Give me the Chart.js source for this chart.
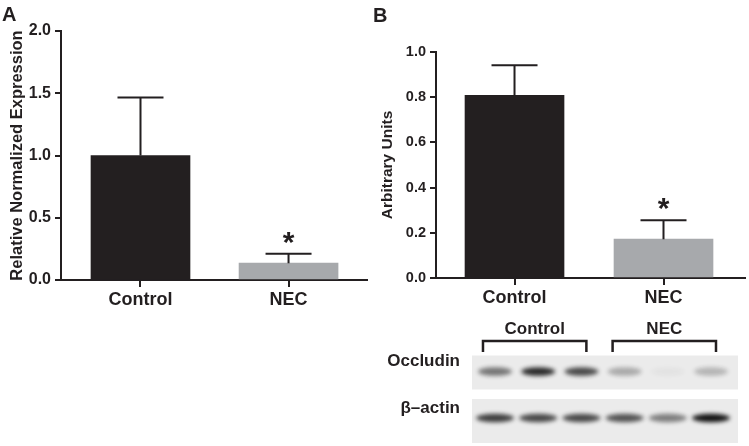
<!DOCTYPE html>
<html>
<head>
<meta charset="utf-8">
<script src="https://cdn.jsdelivr.net/npm/chart.js@4.4.1/dist/chart.umd.min.js"></script>
<style>
  html, body { margin: 0; padding: 0; background: #fff; }
  #wrap { position: relative; width: 749px; height: 446px; overflow: hidden; }
  canvas { position: absolute; }
</style>
</head>
<body>
<div id="wrap">
  <canvas id="chartA" width="370" height="320" style="left:0;top:0"></canvas>
  <canvas id="chartB" width="379" height="312" style="left:370px;top:0"></canvas>
  <canvas id="blot" width="379" height="134" style="left:370px;top:312px"></canvas>
</div>
<script>
// --- data ---
var categories = ['Control', 'NEC'];
var mrnaMeans = [1.0, 0.135];
var mrnaErrors = [0.465, 0.076];
var proteinMeans = [0.808, 0.172];
var proteinErrors = [0.133, 0.083];
var significant = [false, true];

var blotRows = ['Occludin', 'β–actin'];
var blotGroups = ['Control', 'NEC'];
var groupLanes = [[1, 3], [4, 6]];
var lanes = [1, 2, 3, 4, 5, 6];
var occludinBands = [0.55, 0.9, 0.75, 0.3, 0.04, 0.25];
var actinBands = [0.8, 0.75, 0.75, 0.7, 0.5, 1.0];

// --- style ---
var FONT = '"Liberation Sans", Arial, Helvetica, sans-serif';
var INK = '#231f20';
var barColors = ['#231f20', '#a7a9ac'];

var errorBars = {
  id: 'errorBars',
  afterDatasetsDraw: function(chart) {
    var ctx = chart.ctx, y = chart.scales.y;
    var ds = chart.data.datasets[0];
    var meta = chart.getDatasetMeta(0);
    ctx.save();
    ctx.strokeStyle = INK;
    ctx.lineWidth = 2;
    meta.data.forEach(function(bar, i) {
      var top = y.getPixelForValue(ds.data[i].y + ds.errors[i]);
      ctx.beginPath();
      ctx.moveTo(bar.x, bar.y);
      ctx.lineTo(bar.x, top);
      ctx.moveTo(bar.x - 23, top);
      ctx.lineTo(bar.x + 23, top);
      ctx.stroke();
      if (significant[i]) {
        ctx.fillStyle = INK;
        ctx.font = 'bold 30px ' + FONT;
        ctx.textAlign = 'center';
        ctx.textBaseline = 'alphabetic';
        ctx.fillText('*', bar.x, top - 2);
      }
    });
    ctx.restore();
  }
};

var panelLetter = {
  id: 'panelLetter',
  afterDraw: function(chart, args, opts) {
    var ctx = chart.ctx;
    ctx.save();
    ctx.fillStyle = INK;
    ctx.font = 'bold 20px ' + FONT;
    ctx.textBaseline = 'alphabetic';
    ctx.fillText(opts.text, opts.x, opts.y);
    ctx.restore();
  }
};

function barChart(id, means, errors, o) {
  return new Chart(document.getElementById(id), {
    type: 'bar',
    data: {
      datasets: [{
        data: means.map(function(v, i) { return { x: i, y: v }; }),
        errors: errors,
        backgroundColor: barColors,
        borderWidth: 0,
        barThickness: 99
      }]
    },
    options: {
      responsive: false,
      animation: false,
      events: [],
      layout: { padding: { top: o.top, right: o.right, left: 0, bottom: 0 } },
      plugins: {
        legend: { display: false },
        tooltip: { enabled: false },
        panelLetter: o.letter
      },
      scales: {
        x: {
          type: 'linear',
          min: o.xmin, max: o.xmax,
          offset: false,
          afterBuildTicks: function(s) { s.ticks = categories.map(function(c, i) { return { value: i }; }); },
          afterFit: function(s) { s.height = o.xh; },
          grid: { display: true, drawOnChartArea: false, offset: false, tickLength: 7, lineWidth: 2, color: INK },
          border: { display: true, color: INK, width: 2 },
          ticks: {
            padding: 2, color: INK, maxRotation: 0, autoSkip: false,
            font: { family: FONT, size: 18, weight: 'bold' },
            callback: function(v, i) { return categories[i]; }
          }
        },
        y: {
          min: 0, max: o.ymax,
          afterFit: function(s) { s.width = o.yw; },
          grid: { display: true, drawOnChartArea: false, tickLength: 6, lineWidth: 2, color: INK },
          border: { display: true, color: INK, width: 2 },
          ticks: {
            stepSize: o.step, padding: 4, color: INK,
            font: { family: FONT, size: o.tickSize, weight: 'bold' },
            callback: function(v) { return v.toFixed(1); }
          },
          title: {
            display: true, text: o.title, color: INK,
            font: { family: FONT, size: o.titleSize, weight: 'bold' },
            padding: { top: 8, bottom: 0 }
          }
        }
      }
    },
    plugins: [errorBars, panelLetter]
  });
}

barChart('chartA', mrnaMeans, mrnaErrors, {
  top: 31, right: 3, xmin: -0.537, xmax: 1.53, xh: 40, yw: 61,
  ymax: 2, step: 0.5, tickSize: 16, titleSize: 16.5,
  title: 'Relative Normalized Expression',
  letter: { text: 'A', x: 2, y: 21 }
});

barChart('chartB', proteinMeans, proteinErrors, {
  top: 52, right: 4, xmin: -0.527, xmax: 1.547, xh: 34, yw: 66,
  ymax: 1, step: 0.2, tickSize: 14.5, titleSize: 15.5,
  title: 'Arbitrary Units',
  letter: { text: 'B', x: 3, y: 22 }
});

// --- western blot ---
function bandImage(a, w) {
  var c = document.createElement('canvas');
  c.width = w + 12; c.height = 22;
  var g = c.getContext('2d');
  g.filter = 'blur(2px)';
  g.fillStyle = 'rgba(20,20,20,' + a + ')';
  g.beginPath();
  g.ellipse(c.width / 2, c.height / 2, w / 2, 4.2, 0, 0, Math.PI * 2);
  g.fill();
  return c;
}
var occludinImgs = occludinBands.map(function(a) { return bandImage(a, 34); });
var actinImgs = actinBands.map(function(a) { return bandImage(a, 38); });

var blotFrame = {
  id: 'blotFrame',
  beforeDatasetsDraw: function(chart) {
    var ctx = chart.ctx, x = chart.scales.x, y = chart.scales.y, area = chart.chartArea;
    var ext = [[-16, 18], [-19, 25]];
    ctx.save();
    ctx.fillStyle = '#ebebeb';
    blotRows.forEach(function(r, i) {
      var py = y.getPixelForValue(i);
      ctx.fillRect(area.left, py + ext[i][0], area.right - area.left, ext[i][1] - ext[i][0]);
    });
    ctx.strokeStyle = INK;
    ctx.fillStyle = INK;
    ctx.lineWidth = 2.5;
    ctx.font = 'bold 17px ' + FONT;
    ctx.textAlign = 'center';
    ctx.textBaseline = 'middle';
    blotGroups.forEach(function(g, i) {
      var x0 = x.getPixelForValue(groupLanes[i][0]) - 12;
      var x1 = x.getPixelForValue(groupLanes[i][1]) + 5;
      ctx.beginPath();
      ctx.moveTo(x0, 40); ctx.lineTo(x0, 29); ctx.lineTo(x1, 29); ctx.lineTo(x1, 40);
      ctx.stroke();
      ctx.fillText(g, (x0 + x1) / 2, 17);
    });
    ctx.restore();
  }
};

new Chart(document.getElementById('blot'), {
  type: 'scatter',
  data: {
    datasets: [
      {
        data: lanes.map(function(l) { return { x: l, y: 0 }; }),
        pointStyle: function(c) { return occludinImgs[c.dataIndex]; }
      },
      {
        data: lanes.map(function(l) { return { x: l, y: 1 }; }),
        pointStyle: function(c) { return actinImgs[c.dataIndex]; }
      }
    ]
  },
  options: {
    responsive: false,
    animation: false,
    events: [],
    clip: false,
    layout: { padding: { top: 38, right: 11, left: 0, bottom: 0 } },
    plugins: { legend: { display: false }, tooltip: { enabled: false } },
    scales: {
      x: {
        type: 'linear', display: false, min: 0.468, max: 6.625,
        afterFit: function(s) { s.paddingLeft = 0; s.paddingRight = 0; }
      },
      y: {
        type: 'linear', reverse: true, min: -0.463, max: 1.496,
        afterBuildTicks: function(s) { s.ticks = blotRows.map(function(r, i) { return { value: i }; }); },
        afterFit: function(s) { s.width = 102; s.paddingTop = 0; s.paddingBottom = 0; },
        grid: { display: false, drawTicks: false },
        border: { display: false },
        ticks: {
          padding: 12, labelOffset: -10, color: INK,
          font: { family: FONT, size: 17, weight: 'bold' },
          callback: function(v, i) { return blotRows[i]; }
        }
      }
    }
  },
  plugins: [blotFrame]
});
</script>
</body>
</html>
